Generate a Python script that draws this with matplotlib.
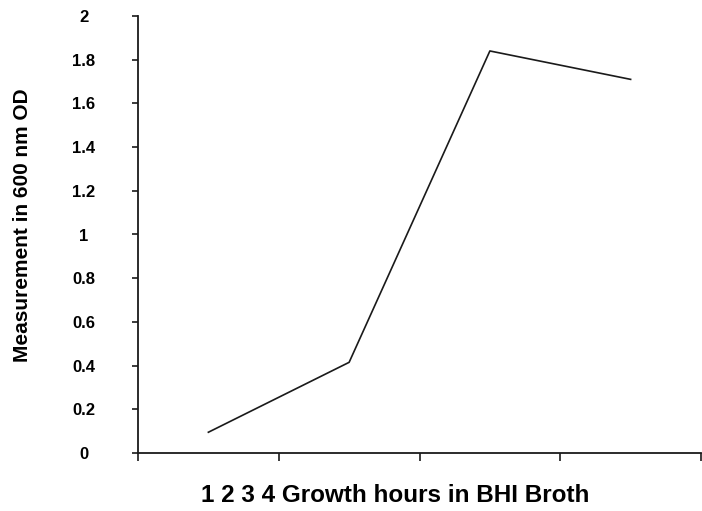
import matplotlib
matplotlib.use("Agg")
import matplotlib.pyplot as plt

plt.rcParams['font.family'] = ['Liberation Sans', 'DejaVu Sans']

# growth curve data
hours = [1, 2, 3, 4]
od_600 = [0.095, 0.415, 1.84, 1.71]
y_ticks = [0, 0.2, 0.4, 0.6, 0.8, 1, 1.2, 1.4, 1.6, 1.8, 2]
y_labels = ["0", "0.2", "0.4", "0.6", "0.8", "1", "1.2", "1.4", "1.6", "1.8", "2"]

fig = plt.figure(figsize=(7.02, 5.11), dpi=100)
ax = fig.add_axes([138/702, 1 - 453/511, 563/702, 437/511])

ax.plot(hours, od_600, color="#1a1a1a", linewidth=1.2)

ax.set_xlim(0.5, 4.5)
ax.set_ylim(0, 2)
ax.set_xticks([0.5, 1.5, 2.5, 3.5, 4.5])
ax.set_xticklabels([])
ax.set_yticks(y_ticks)
ax.set_yticklabels(y_labels, fontsize=12, fontweight="bold", ha="center")

ax.spines["top"].set_visible(False)
ax.spines["right"].set_visible(False)
for s in ("left", "bottom"):
    ax.spines[s].set_linewidth(1.3)
    ax.spines[s].set_color("#1a1a1a")
ax.tick_params(axis="y", length=4, width=1.2, pad=35, color="#1a1a1a")
ax.tick_params(axis="x", length=6, width=1.2, color="#1a1a1a")

ax.set_xlabel("1 2 3 4 Growth hours in BHI Broth", fontsize=17.5, fontweight="bold")
ax.xaxis.set_label_coords(0.457, -0.098)
ax.xaxis.label.set_va("center")
ax.set_ylabel("Measurement in 600 nm OD", fontsize=15, fontweight="bold")
ax.yaxis.set_label_coords(-0.206, 0.522)
ax.yaxis.label.set_va("center")

fig.savefig("out.png", dpi=100)
